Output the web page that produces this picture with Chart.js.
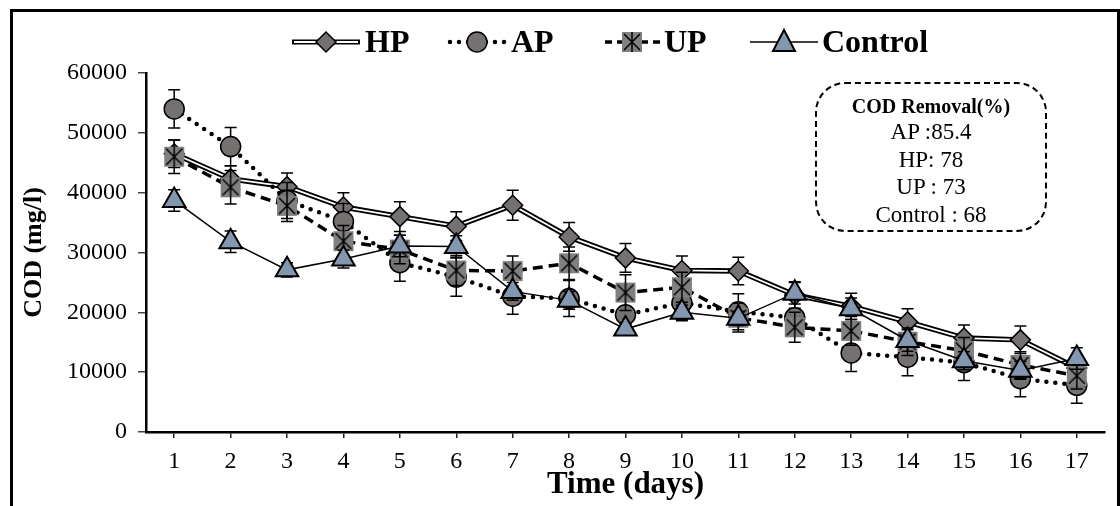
<!DOCTYPE html>
<html>
<head>
<meta charset="utf-8">
<script src="https://cdn.jsdelivr.net/npm/chart.js@4.4.0/dist/chart.umd.min.js"></script>
<style>
  body { margin: 0; background: #fff; font-family: "Liberation Serif", "Times New Roman", serif; }
  #wrap { position: relative; width: 1120px; height: 506px; overflow: hidden; }
  #frame { position: absolute; left: 10px; top: 9px; width: 1104px; height: 520px; border: 3px solid #000; }
  #legend { position: absolute; left: 0; top: 23px; width: 1120px; height: 36px; font-weight: bold; font-size: 32px; color: #000; }
  #legend .item { position: absolute; top: 0; display: flex; align-items: center; }
  #legend canvas { display: block; margin-right: 4px; }
  #note { position: absolute; left: 815px; top: 82px; width: 228px; height: 146px; border: 2.5px dashed #000; border-radius: 30px; text-align: center; color: #000; }
  #note .t { font-weight: bold; font-size: 20px; margin-top: 10px; line-height: 24px; }
  #note .l { font-size: 23px; line-height: 27.5px; }
  canvas#chart { position: absolute; left: 0; top: 0; }
</style>
</head>
<body>
<div id="wrap">
  <canvas id="chart" width="1120" height="506"></canvas>
  <div id="frame"></div>
  <div id="legend"></div>
  <div id="note">
    <div class="t">COD Removal(%)</div>
    <div class="l">AP :85.4</div>
    <div class="l">HP: 78</div>
    <div class="l">UP : 73</div>
    <div class="l">Control : 68</div>
  </div>
</div>
<script>
const days = ['1','2','3','4','5','6','7','8','9','10','11','12','13','14','15','16','17'];
const yTicks = [0, 10000, 20000, 30000, 40000, 50000, 60000];

const hp      = [46500, 42300, 41000, 37600, 36000, 34400, 37900, 32600, 29100, 27000, 26900, 22900, 21000, 18400, 15700, 15400, 10700];
const ap      = [54000, 47700, 38700, 35200, 28300, 25900, 22700, 22300, 19600, 21600, 20100, 19100, 13200, 12500, 11600, 8900, 7800];
const up      = [46000, 40900, 37800, 31900, 30500, 27000, 26900, 28200, 23300, 24200, 19100, 17500, 16900, 15100, 13600, 11200, 9400];
const control = [38700, 31800, 27100, 28900, 31100, 31000, 23500, 22000, 17200, 20000, 19000, 23200, 20600, 15300, 11900, 10300, 12300];

const hpErr      = [2300, 2200, 2300, 2400, 2500, 2400, 2500, 2400, 2400, 2400, 2300, 2200, 2200, 2200, 2200, 2300, 2000];
const apErr      = [3200, 3200, 3000, 3000, 3100, 3200, 3000, 3000, 3000, 3000, 3000, 3000, 3100, 3100, 3000, 3000, 3000];
const upErr      = [2800, 2800, 2600, 2600, 2400, 2500, 2500, 2700, 3000, 2500, 2400, 2500, 2400, 2300, 2200, 2200, 2200];
const controlErr = [1800, 1800, 1200, 1500, 1800, 1800, 1500, 1500, 900, 1200, 1200, 1800, 1800, 1800, 1500, 1500, 1800];

const GRAY = '#767171';
const SQGRAY = '#808080';
const BLUE = '#8497b0';
const FONT = '"Liberation Serif", "Times New Roman", serif';

// UP marker: grey square with black asterisk
function upMarker() {
  const c = document.createElement('canvas');
  c.width = 22; c.height = 22;
  const g = c.getContext('2d');
  g.fillStyle = SQGRAY;
  g.fillRect(1, 1, 20, 20);
  g.strokeStyle = '#000';
  g.lineWidth = 1.5;
  g.beginPath();
  g.moveTo(3, 3); g.lineTo(19, 19);
  g.moveTo(19, 3); g.lineTo(3, 19);
  g.moveTo(11, 1); g.lineTo(11, 21);
  g.stroke();
  return c;
}
const upPoint = upMarker();

// legend icons
function legendIcon(kind, w) {
  const c = document.createElement('canvas');
  c.width = w; c.height = 30;
  const g = c.getContext('2d');
  const y = 15, m = w / 2;
  g.strokeStyle = '#000';
  if (kind === 'HP') {
    g.lineWidth = 5; g.beginPath(); g.moveTo(1, y); g.lineTo(w - 1, y); g.stroke();
    g.strokeStyle = '#fff'; g.lineWidth = 1.8; g.beginPath(); g.moveTo(3, y); g.lineTo(w - 3, y); g.stroke();
    g.fillStyle = GRAY; g.strokeStyle = '#000'; g.lineWidth = 1.5;
    g.beginPath(); g.moveTo(m - 10, y); g.lineTo(m, y - 10); g.lineTo(m + 10, y); g.lineTo(m, y + 10); g.closePath(); g.fill(); g.stroke();
  } else if (kind === 'AP') {
    g.lineWidth = 4.5; g.lineCap = 'round'; g.setLineDash([0, 9]);
    g.beginPath(); g.moveTo(3, y); g.lineTo(w - 2, y); g.stroke();
    g.setLineDash([]); g.lineWidth = 1.5; g.fillStyle = GRAY;
    g.beginPath(); g.arc(m, y, 10, 0, Math.PI * 2); g.fill(); g.stroke();
  } else if (kind === 'UP') {
    g.lineWidth = 3.5; g.setLineDash([7, 5]);
    g.beginPath(); g.moveTo(1, y); g.lineTo(w, y); g.stroke();
    g.setLineDash([]);
    g.drawImage(upPoint, m - 11, y - 11);
  } else {
    g.lineWidth = 1.5;
    g.beginPath(); g.moveTo(0, y); g.lineTo(w, y); g.stroke();
    g.fillStyle = BLUE;
    g.beginPath(); g.moveTo(m, y - 12); g.lineTo(m + 11, y + 9); g.lineTo(m - 11, y + 9); g.closePath(); g.fill(); g.lineWidth = 2; g.stroke();
  }
  return c;
}

const legendNames = ['HP', 'AP', 'UP', 'Control'];
const legendLeft = [291, 447, 604, 750];
const legendIconW = [70, 60, 56, 68];
const legendEl = document.getElementById('legend');
legendNames.forEach((name, i) => {
  const item = document.createElement('div');
  item.className = 'item';
  item.style.left = legendLeft[i] + 'px';
  item.appendChild(legendIcon(name, legendIconW[i]));
  const s = document.createElement('span');
  s.textContent = name;
  item.appendChild(s);
  legendEl.appendChild(item);
});

// vertical error bars with caps, drawn under each dataset's own marks
const errorBars = {
  id: 'errorBars',
  beforeDatasetDraw(chart, args) {
    const ds = chart.data.datasets[args.index];
    if (!ds.errors) return;
    const ctx = chart.ctx, ys = chart.scales.y;
    ctx.save();
    ctx.strokeStyle = '#000';
    ctx.lineWidth = 1.5;
    args.meta.data.forEach((pt, i) => {
      const t = ys.getPixelForValue(ds.data[i] + ds.errors[i]);
      const b = ys.getPixelForValue(ds.data[i] - ds.errors[i]);
      ctx.beginPath();
      ctx.moveTo(pt.x, t); ctx.lineTo(pt.x, b);
      ctx.moveTo(pt.x - 6, t); ctx.lineTo(pt.x + 6, t);
      ctx.moveTo(pt.x - 6, b); ctx.lineTo(pt.x + 6, b);
      ctx.stroke();
    });
    ctx.restore();
  }
};

new Chart(document.getElementById('chart'), {
  type: 'line',
  data: {
    labels: days,
    datasets: [
      {
        label: 'HP outline', data: hp, borderColor: '#000', borderWidth: 5.5,
        pointRadius: 0, order: 5, errors: hpErr
      },
      {
        label: 'HP', data: hp, borderColor: '#fff', borderWidth: 1.8,
        pointStyle: 'rectRot', pointRadius: 10, pointBackgroundColor: GRAY,
        pointBorderColor: '#000', pointBorderWidth: 1.5, order: 4
      },
      {
        label: 'AP', data: ap, borderColor: '#000', borderWidth: 4.5,
        borderDash: [0, 9], borderCapStyle: 'round',
        pointStyle: 'circle', pointRadius: 10, pointBackgroundColor: GRAY,
        pointBorderColor: '#000', pointBorderWidth: 1.5, order: 3, errors: apErr
      },
      {
        label: 'UP', data: up, borderColor: '#000', borderWidth: 3.5,
        borderDash: [10, 6],
        pointStyle: upPoint, pointRadius: 10, order: 2, errors: upErr
      },
      {
        label: 'Control', data: control, borderColor: '#000', borderWidth: 1.5,
        pointStyle: 'triangle', pointRadius: 13, pointBackgroundColor: BLUE,
        pointBorderColor: '#000', pointBorderWidth: 2, order: 1, errors: controlErr
      }
    ]
  },
  options: {
    responsive: false,
    animation: false,
    layout: { padding: { top: 73, left: 12, right: 13, bottom: 0 } },
    plugins: { legend: { display: false }, tooltip: { enabled: false } },
    scales: {
      x: {
        offset: true,
        grid: { drawOnChartArea: false, drawTicks: true, tickLength: 6, color: '#222', lineWidth: 1.5 },
        border: { color: '#000', width: 2.5 },
        ticks: { color: '#000', font: { family: FONT, size: 24 }, padding: 9, maxRotation: 0 },
        title: { display: true, text: 'Time (days)', color: '#000', font: { family: FONT, size: 31, weight: 'bold' }, padding: { top: 0, bottom: 2 } },
        afterFit: s => { s.height = 74; }
      },
      y: {
        min: 0, max: 60000,
        afterBuildTicks: s => { s.ticks = yTicks.map(v => ({ value: v })); },
        grid: { drawOnChartArea: false, drawTicks: true, tickLength: 8, color: '#444', lineWidth: 1.5 },
        border: { color: '#000', width: 2.5 },
        ticks: { color: '#000', font: { family: FONT, size: 24 }, padding: 11, callback: v => String(v) },
        title: { display: true, text: 'COD (mg/l)', color: '#000', font: { family: FONT, size: 26, weight: 'bold' }, padding: 7 },
        afterFit: s => { s.width = 134; }
      }
    }
  },
  plugins: [errorBars]
});
</script>
</body>
</html>
